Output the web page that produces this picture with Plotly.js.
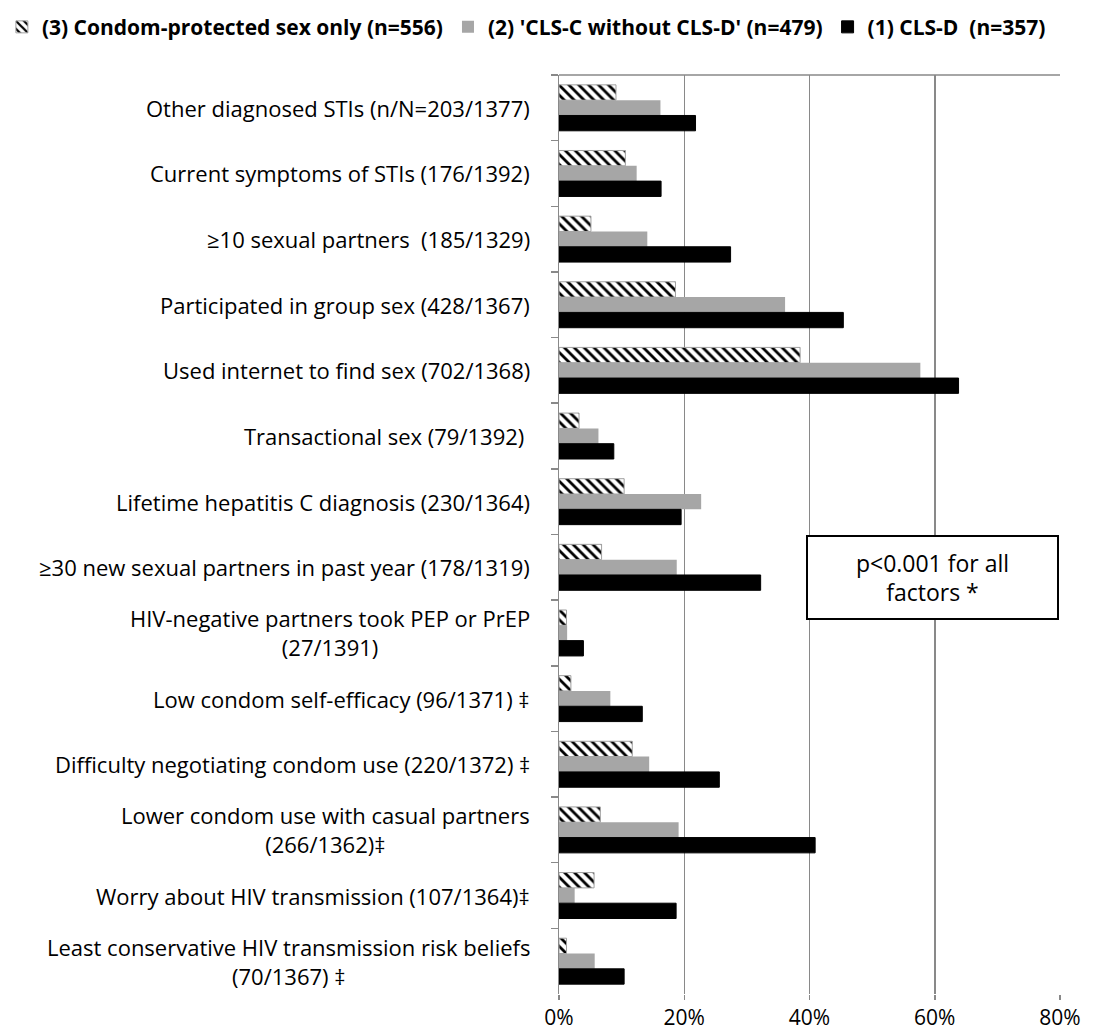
<!DOCTYPE html>
<html>
<head>
<meta charset="utf-8">
<script src="https://cdn.plot.ly/plotly-3.0.1.min.js"></script>
<style>html,body{margin:0;padding:0;background:#fff;}#chart{width:1104px;height:1035px;}</style>
</head>
<body>
<div id="chart"></div>
<script>
const categories = [
  "Other diagnosed STIs (n/N=203/1377)",
  "Current symptoms of STIs (176/1392)",
  "≥10 sexual partners  (185/1329)",
  "Participated in group sex (428/1367)",
  "Used internet to find sex (702/1368)",
  "Transactional sex (79/1392) ",
  "Lifetime hepatitis C diagnosis (230/1364)",
  "≥30 new sexual partners in past year (178/1319)",
  "HIV-negative partners took PEP or PrEP<br>(27/1391)",
  "Low condom self-efficacy (96/1371) ‡",
  "Difficulty negotiating condom use (220/1372) ‡",
  "Lower condom use with casual partners<br>(266/1362)‡",
  "Worry about HIV transmission (107/1364)‡",
  "Least conservative HIV transmission risk beliefs<br>(70/1367) ‡"
];
const seriesNames = [
  "(3) Condom-protected sex only (n=556)",
  "(2) 'CLS-C without CLS-D' (n=479)",
  "(1) CLS-D  (n=357)"
];
const condomOnly = [9.1, 10.6, 5.1, 18.6, 38.5, 3.2, 10.4, 6.8, 1.2, 1.9, 11.7, 6.6, 5.6, 1.2];
const clsCNoD   = [16.2, 12.4, 14.1, 36.1, 57.7, 6.3, 22.7, 18.8, 1.3, 8.2, 14.4, 19.1, 2.5, 5.7];
const clsD      = [21.8, 16.3, 27.4, 45.4, 63.8, 8.75, 19.5, 32.2, 3.9, 13.3, 25.6, 40.9, 18.7, 10.4];
const xTicks = [0, 20, 40, 60, 80];
const noteText = "p<0.001 for all<br>factors *";

const FONT = "'Open Sans', 'Noto Sans', sans-serif";

const traces = [
  {
    type: 'bar', orientation: 'h', name: seriesNames[0],
    y: categories, x: condomOnly,
    marker: {
      color: '#ffffff',
      pattern: {shape: '\\', fgcolor: '#000000', bgcolor: '#ffffff', size: 7, solidity: 0.4},
      line: {color: '#a0a0a0', width: 1}
    }
  },
  {
    type: 'bar', orientation: 'h', name: seriesNames[1],
    y: categories, x: clsCNoD,
    marker: {color: '#a6a6a6', line: {color: '#a6a6a6', width: 0}}
  },
  {
    type: 'bar', orientation: 'h', name: seriesNames[2],
    y: categories, x: clsD,
    marker: {color: '#000000', line: {color: '#000000', width: 1}}
  }
];

const annotations = categories.map(c => ({
  xref: 'paper', yref: 'y', x: 0, y: c,
  xanchor: 'right', yanchor: 'middle', xshift: -27,
  text: c, showarrow: false, align: 'center',
  font: {family: FONT, size: 22, color: '#000'}
}));
annotations.push({
  xref: 'x', yref: 'paper', x: 59.6, y: 0.4527,
  xanchor: 'center', yanchor: 'middle',
  text: noteText, showarrow: false, align: 'center',
  width: 249, height: 81, borderpad: 0,
  bordercolor: '#000', borderwidth: 2, bgcolor: '#fff',
  font: {family: FONT, size: 23, color: '#000'}
});

const layout = {
  width: 1104, height: 1035,
  margin: {l: 559, r: 44, t: 75, b: 41, autoexpand: false},
  paper_bgcolor: '#fff', plot_bgcolor: '#fff',
  barmode: 'group', bargap: 0.30, bargroupgap: 0,
  showlegend: true,
  legend: {
    orientation: 'h', x: -1.112, xref: 'paper', xanchor: 'left',
    y: 1.052, yref: 'paper', yanchor: 'middle',
    font: {family: FONT, size: 21, color: '#000', weight: 'bold'},
    itemwidth: 30, traceorder: 'normal', tracegroupgap: 0
  },
  font: {family: FONT, color: '#000'},
  xaxis: {
    range: [0, 80], tickvals: xTicks, ticktext: xTicks.map(v => v + '%'),
    showgrid: true, gridcolor: '#898989', gridwidth: 1.5,
    zeroline: false, showline: false,
    ticks: 'outside', ticklen: 5, tickcolor: '#898989', tickwidth: 1.5,
    tickfont: {family: FONT, size: 21, color: '#000'},
    ticklabelstandoff: 0, fixedrange: true, automargin: false
  },
  yaxis: {
    type: 'category', autorange: 'reversed',
    showticklabels: false,
    showline: true, linecolor: '#898989', linewidth: 1.5,
    ticks: 'outside', tickson: 'boundaries', ticklen: 7, tickcolor: '#898989', tickwidth: 1.5,
    showgrid: false, zeroline: false, fixedrange: true, automargin: false
  },
  shapes: [{
    type: 'line', xref: 'paper', yref: 'paper', x0: 0, x1: 1, y0: 1, y1: 1,
    line: {color: '#898989', width: 1.5}
  }],
  annotations: annotations
};

Plotly.newPlot('chart', traces, layout, {displayModeBar: false, staticPlot: true});
</script>
</body>
</html>
